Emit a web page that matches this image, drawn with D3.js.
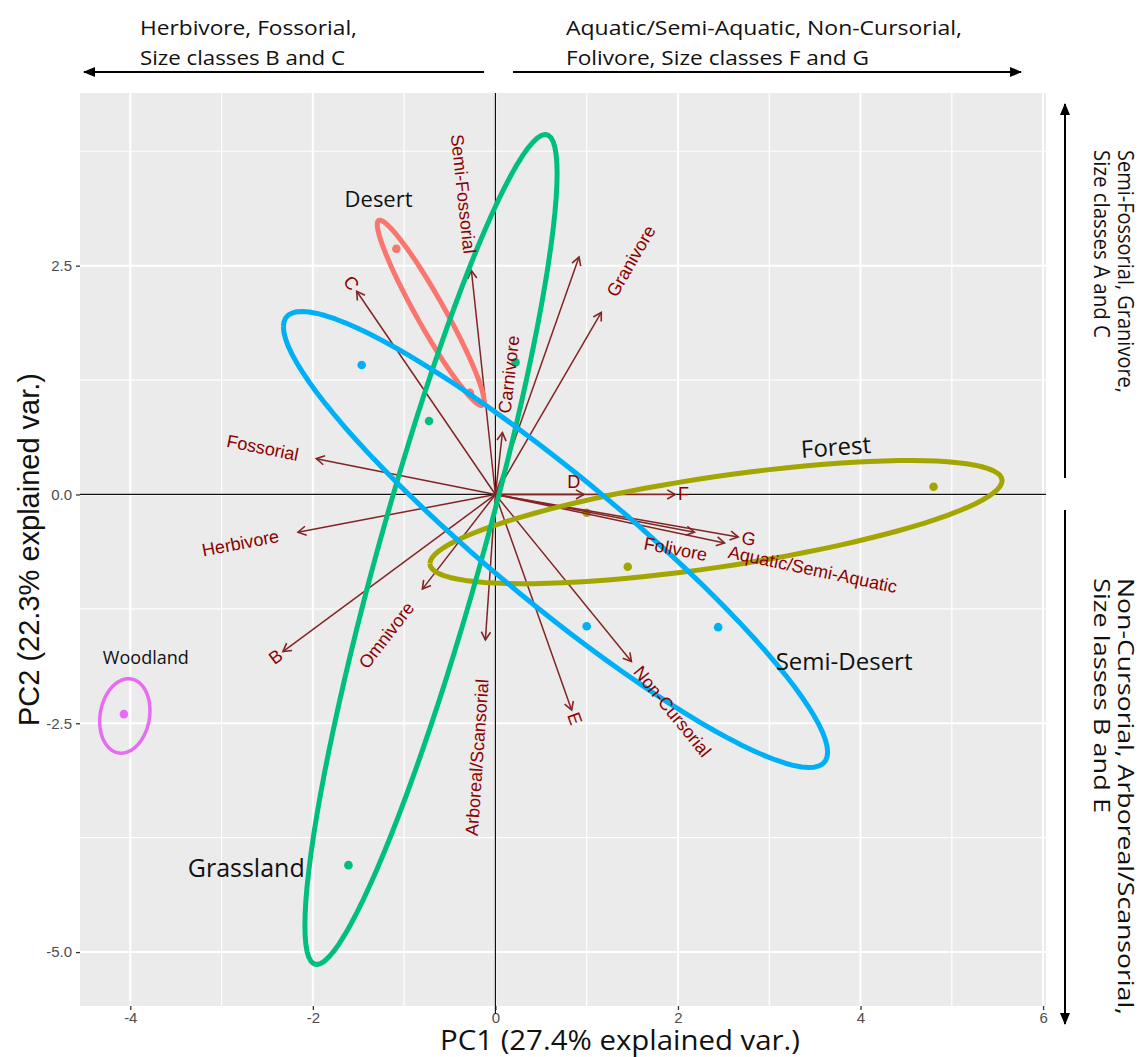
<!DOCTYPE html>
<html>
<head>
<meta charset="utf-8">
<script src="https://cdn.jsdelivr.net/npm/d3@7"></script>
<style>
  body { margin: 0; background: #fff; }
  svg text { font-family: "Liberation Sans", Arial, sans-serif; }
</style>
</head>
<body>
<div id="chart"></div>
<script>
var w = 1147;
var h = 1057;

// PCA scores of the sites, coloured by habitat
var habitats = ["Desert", "Forest", "Grassland", "Semi-Desert", "Woodland"];
var habitatColors = ["#F8766D", "#A3A500", "#00BF7D", "#00B0F6", "#E76BF3"];
var siteHabitat = ["Desert", "Desert", "Forest", "Forest", "Forest", "Grassland", "Grassland", "Grassland",
                   "Semi-Desert", "Semi-Desert", "Semi-Desert", "Woodland"];
var sitePC1 = [-1.085, -0.28, 1.0, 1.45, 4.8, 0.22, -0.727, -1.61, -1.465, 1.0, 2.44, -4.07];
var sitePC2 = [2.685, 1.11, -0.2, -0.79, 0.084, 1.443, 0.803, -4.05, 1.414, -1.44, -1.45, -2.40];

// ellipses that were added by hand (groups with fewer than 3 sites): cx, cy, semi-axes, tilt in degrees
var handEllipseGroup = ["Desert", "Woodland"];
var handEllipseCx = [-0.709, -4.06];
var handEllipseCy = [1.984, -2.42];
var handEllipseA = [1.16, 0.41];
var handEllipseB = [0.155, 0.27];
var handEllipseTilt = [-60.6, 80];

// variable loadings (arrows)
var varNames = ["", "Semi-Fossorial", "Granivore", "C", "Carnivore", "Fossorial", "Herbivore", "B", "Omnivore",
                "Arboreal/Scansorial", "E", "Non-Cursorial", "Folivore", "Aquatic/Semi-Aquatic", "G", "F", "D"];
var loadPC1 = [0.916, -0.263, 1.16, -1.52, 0.077, -1.962, -2.163, -2.328, -0.80, -0.11, 0.835, 1.49, 2.18, 2.51, 2.66, 1.97, 0.97];
var loadPC2 = [2.594, 2.447, 1.99, 2.22, 0.676, 0.391, -0.413, -1.717, -1.034, -1.589, -2.356, -1.826, -0.413, -0.53, -0.464, 0.0, 0.0];

// habitat names written on the plot
var habitatLabelX = [-1.28, 3.73, -2.73, 3.82, -3.83];
var habitatLabelY = [3.24, 0.53, -4.07, -1.81, -1.775];

var xTicks = [-4, -2, 0, 2, 4, 6];
var yTicks = [-5, -2.5, 0, 2.5];
var xMinor = [-3, -1, 1, 3, 5];
var yMinor = [-3.75, -1.25, 1.25, 3.75];

var xTitle = "PC1 (27.4% explained var.)";
var yTitle = "PC2 (22.3% explained var.)";

// ggbiplot style normal ellipse, prob 0.68
var ellipseProb = 0.68;
function groupEllipse(xs, ys) {
  var n = xs.length;
  var mx = d3.mean(xs), my = d3.mean(ys);
  var sxx = d3.sum(xs, function(v){ return (v - mx) * (v - mx); }) / (n - 1);
  var syy = d3.sum(ys, function(v){ return (v - my) * (v - my); }) / (n - 1);
  var sxy = d3.sum(xs, function(v, i){ return (v - mx) * (ys[i] - my); }) / (n - 1);
  var a = Math.sqrt(sxx), b = sxy / a, c = Math.sqrt(syy - b * b);
  var ed = Math.sqrt(-2 * Math.log(1 - ellipseProb));
  return d3.range(101).map(function(i){
    var t = -Math.PI + 2 * Math.PI * i / 100;
    return [mx + ed * a * Math.cos(t), my + ed * (b * Math.cos(t) + c * Math.sin(t))];
  });
}
function handEllipse(i) {
  var phi = handEllipseTilt[i] * Math.PI / 180;
  return d3.range(101).map(function(k){
    var t = 2 * Math.PI * k / 100;
    var u = handEllipseA[i] * Math.cos(t), v = handEllipseB[i] * Math.sin(t);
    return [handEllipseCx[i] + u * Math.cos(phi) - v * Math.sin(phi),
            handEllipseCy[i] + u * Math.sin(phi) + v * Math.cos(phi)];
  });
}

var ellipses = [];
habitats.forEach(function(g){
  var idx = d3.range(siteHabitat.length).filter(function(i){ return siteHabitat[i] === g; });
  var hi = handEllipseGroup.indexOf(g);
  var pts = idx.length >= 3 ? groupEllipse(idx.map(function(i){ return sitePC1[i]; }), idx.map(function(i){ return sitePC2[i]; }))
                            : handEllipse(hi);
  ellipses.push({group: g, pts: pts, computed: idx.length >= 3});
});

// limits like ggplot: everything that is mapped, plus 5%
var allX = sitePC1.concat(loadPC1).concat([0]), allY = sitePC2.concat(loadPC2).concat([0]);
ellipses.forEach(function(e){ if (e.computed) e.pts.forEach(function(p){ allX.push(p[0]); allY.push(p[1]); }); });
var xr = d3.extent(allX), yr = d3.extent(allY);
var xpad = (xr[1] - xr[0]) * 0.05, ypad = (yr[1] - yr[0]) * 0.05;

var panel = {left: 80, top: 93, right: 1046, bottom: 1006};

var x = d3.scaleLinear().domain([xr[0] - xpad, xr[1] + xpad]).range([panel.left, panel.right]);
var y = d3.scaleLinear().domain([yr[0] - ypad, yr[1] + ypad]).range([panel.bottom, panel.top]);

var svg = d3.select("#chart").append("svg")
  .attr("width", w)
  .attr("height", h)
  .style("background", "#FFFFFF");

svg.append("defs").append("marker")
  .attr("id", "head")
  .attr("viewBox", "-10 -6 12 12")
  .attr("refX", 0).attr("refY", 0)
  .attr("markerUnits", "userSpaceOnUse")
  .attr("markerWidth", 12).attr("markerHeight", 12)
  .attr("orient", "auto")
  .append("path")
  .attr("d", "M-8,-4.6L0,0L-8,4.6")
  .attr("fill", "none")
  .attr("stroke", "#832424")
  .attr("stroke-width", 1.6);

svg.select("defs").append("marker")
  .attr("id", "bighead")
  .attr("viewBox", "-12 -6 14 12")
  .attr("refX", 0).attr("refY", 0)
  .attr("markerUnits", "userSpaceOnUse")
  .attr("markerWidth", 14).attr("markerHeight", 12)
  .attr("orient", "auto")
  .append("path")
  .attr("d", "M-11,-5L1,0L-11,5Z")
  .attr("fill", "#000");

// panel
svg.append("rect")
  .attr("x", panel.left).attr("y", panel.top)
  .attr("width", panel.right - panel.left).attr("height", panel.bottom - panel.top)
  .attr("fill", "#EBEBEB");

var grid = svg.append("g");
grid.selectAll(".vminor").data(xMinor).enter().append("line")
  .attr("x1", function(d){ return x(d); }).attr("x2", function(d){ return x(d); })
  .attr("y1", panel.top).attr("y2", panel.bottom)
  .attr("stroke", "#fff").attr("stroke-width", 1.2);
grid.selectAll(".hminor").data(yMinor).enter().append("line")
  .attr("y1", function(d){ return y(d); }).attr("y2", function(d){ return y(d); })
  .attr("x1", panel.left).attr("x2", panel.right)
  .attr("stroke", "#fff").attr("stroke-width", 1.2);
grid.selectAll(".vmajor").data(xTicks).enter().append("line")
  .attr("x1", function(d){ return x(d); }).attr("x2", function(d){ return x(d); })
  .attr("y1", panel.top).attr("y2", panel.bottom)
  .attr("stroke", "#fff").attr("stroke-width", 2);
grid.selectAll(".hmajor").data(yTicks).enter().append("line")
  .attr("y1", function(d){ return y(d); }).attr("y2", function(d){ return y(d); })
  .attr("x1", panel.left).attr("x2", panel.right)
  .attr("stroke", "#fff").attr("stroke-width", 2);

// axes
var xAxis = svg.append("g")
  .attr("transform", "translate(0," + panel.bottom + ")")
  .call(d3.axisBottom(x).tickValues(xTicks).tickSize(4).tickPadding(2));
var yAxis = svg.append("g")
  .attr("transform", "translate(" + panel.left + ",0)")
  .call(d3.axisLeft(y).tickValues(yTicks).tickSize(4).tickPadding(4));
[xAxis, yAxis].forEach(function(ax){
  ax.select(".domain").remove();
  ax.selectAll(".tick line").attr("stroke", "#333").attr("stroke-width", 1.3);
  ax.selectAll(".tick text").attr("fill", "#4D4D4D").style("font-size", "15px")
    .style("font-family", "'Liberation Sans', Arial, sans-serif");
});
xAxis.selectAll(".tick text").text(function(d){ return d3.format("d")(d).replace("\u2212", "-"); });
yAxis.selectAll(".tick text").text(function(d){ return d3.format(".1f")(d).replace("\u2212", "-"); });

// zero lines
svg.append("line").attr("x1", panel.left).attr("x2", panel.right)
  .attr("y1", y(0)).attr("y2", y(0)).attr("stroke", "#111").attr("stroke-width", 1.2);
svg.append("line").attr("x1", x(0)).attr("x2", x(0))
  .attr("y1", panel.top).attr("y2", panel.bottom + 8).attr("stroke", "#111").attr("stroke-width", 1.2);

// site points
svg.append("g").selectAll("circle")
  .data(d3.range(sitePC1.length))
  .enter().append("circle")
  .attr("cx", function(i){ return x(sitePC1[i]); })
  .attr("cy", function(i){ return y(sitePC2[i]); })
  .attr("r", 4.3)
  .attr("fill", function(i){ return habitatColors[habitats.indexOf(siteHabitat[i])]; });

// arrows
svg.append("g").selectAll("line")
  .data(d3.range(loadPC1.length))
  .enter().append("line")
  .attr("x1", x(0)).attr("y1", y(0))
  .attr("x2", function(i){ return x(loadPC1[i]); })
  .attr("y2", function(i){ return y(loadPC2[i]); })
  .attr("stroke", "#832424")
  .attr("stroke-width", 1.5)
  .attr("marker-end", "url(#head)");

// ellipses
var line = d3.line().x(function(p){ return x(p[0]); }).y(function(p){ return y(p[1]); });
svg.append("g").selectAll("path")
  .data(ellipses)
  .enter().append("path")
  .attr("d", function(e){ return line(e.pts); })
  .attr("fill", "none")
  .attr("stroke", function(e){ return habitatColors[habitats.indexOf(e.group)]; })
  .attr("stroke-width", function(e){ return e.group === "Woodland" ? 3.5 : 5; })
  .attr("stroke-linejoin", "round");

// variable names, placed like ggbiplot (angle along arrow, hjust = (1 - 1.5*sign(x))/2)
// a few were moved by hand in the figure
var labelGap = {"Semi-Fossorial": 17, "Aquatic/Semi-Aquatic": 4, "Non-Cursorial": 9};
var labelNudge = {"D": [-20, -12], "Folivore": [-66, 8], "Aquatic/Semi-Aquatic": [0, 8]};
var varText = svg.append("g").selectAll("text")
  .data(d3.range(varNames.length).filter(function(i){ return varNames[i] !== ""; }))
  .enter().append("text")
  .attr("fill", "#8B0000")
  .style("font-size", "18px")
  .attr("dominant-baseline", "central")
  .text(function(i){ return varNames[i]; });
varText.each(function(i){
  var t = d3.select(this);
  var wd = this.getComputedTextLength();
  var vx = loadPC1[i], vy = loadPC2[i];
  var ang = Math.atan(vy / vx) * 180 / Math.PI;
  var gap = labelGap[varNames[i]] !== undefined ? labelGap[varNames[i]] : 0.25 * wd;
  var off = vx > 0 ? gap : -(wd + gap);
  var nud = labelNudge[varNames[i]] || [0, 0];
  t.attr("x", 0).attr("y", 0).attr("dx", off)
   .attr("transform", "translate(" + (x(vx) + nud[0]) + "," + (y(vy) + nud[1]) + ") rotate(" + (-ang) + ")");
});

// habitat names
var habitatFont = [22, 24, 25, 24, 18];
svg.append("g").selectAll("text")
  .data(habitats)
  .enter().append("text")
  .attr("x", function(d, i){ return x(habitatLabelX[i]); })
  .attr("y", function(d, i){ return y(habitatLabelY[i]); })
  .attr("text-anchor", "middle")
  .attr("dominant-baseline", "central")
  .attr("transform", function(d, i){ return d === "Forest" ? "rotate(-4," + x(habitatLabelX[i]) + "," + y(habitatLabelY[i]) + ")" : null; })
  .style("font-family", "'Open Sans', sans-serif")
  .style("font-size", function(d, i){ return habitatFont[i] + "px"; })
  .attr("fill", "#111")
  .text(function(d){ return d; });

// axis titles
svg.append("text")
  .attr("x", 620).attr("y", 1050)
  .attr("text-anchor", "middle")
  .style("font-family", "'Open Sans', sans-serif")
  .style("font-size", "27px")
  .attr("textLength", 360).attr("lengthAdjust", "spacingAndGlyphs")
  .attr("fill", "#111")
  .text(xTitle);
svg.append("text")
  .attr("transform", "translate(29," + ((panel.top + panel.bottom) / 2) + ") rotate(-90)")
  .attr("text-anchor", "middle")
  .attr("dominant-baseline", "central")
  .style("font-size", "29px")
  .attr("fill", "#111")
  .text(yTitle);

// direction notes around the plot
function note(xp, yp, rot, str, len, size) {
  svg.append("text")
    .attr("transform", "translate(" + xp + "," + yp + ") rotate(" + rot + ")")
    .style("font-family", "'Open Sans', sans-serif")
    .style("font-size", size + "px")
    .attr("textLength", len).attr("lengthAdjust", "spacingAndGlyphs")
    .attr("fill", "#111")
    .text(str);
}
note(140, 35, 0, "Herbivore, Fossorial,", 217, 20);
note(140, 65, 0, "Size classes B and C", 205, 20);
note(566, 35, 0, "Aquatic/Semi-Aquatic, Non-Cursorial,", 396, 20);
note(566, 65, 0, "Folivore, Size classes F and G", 303, 20);
note(1118, 150, 90, "Semi-Fossorial, Granivore,", 243, 21);
note(1094, 150, 90, "Size classes A and C", 188, 21);
note(1118, 578, 90, "Non-Cursorial, Arboreal/Scansorial,", 437, 21);
note(1094, 578, 90, "Size lasses B and E", 235, 21);

function bar(x1, y1, x2, y2) {
  svg.append("line").attr("x1", x1).attr("y1", y1).attr("x2", x2).attr("y2", y2)
    .attr("stroke", "#000").attr("stroke-width", 2)
    .attr("marker-end", "url(#bighead)");
}
bar(484, 72, 84, 72);
bar(513, 72, 1021, 72);
bar(1065, 478, 1065, 104);
bar(1065, 510, 1065, 1024);
</script>
</body>
</html>
